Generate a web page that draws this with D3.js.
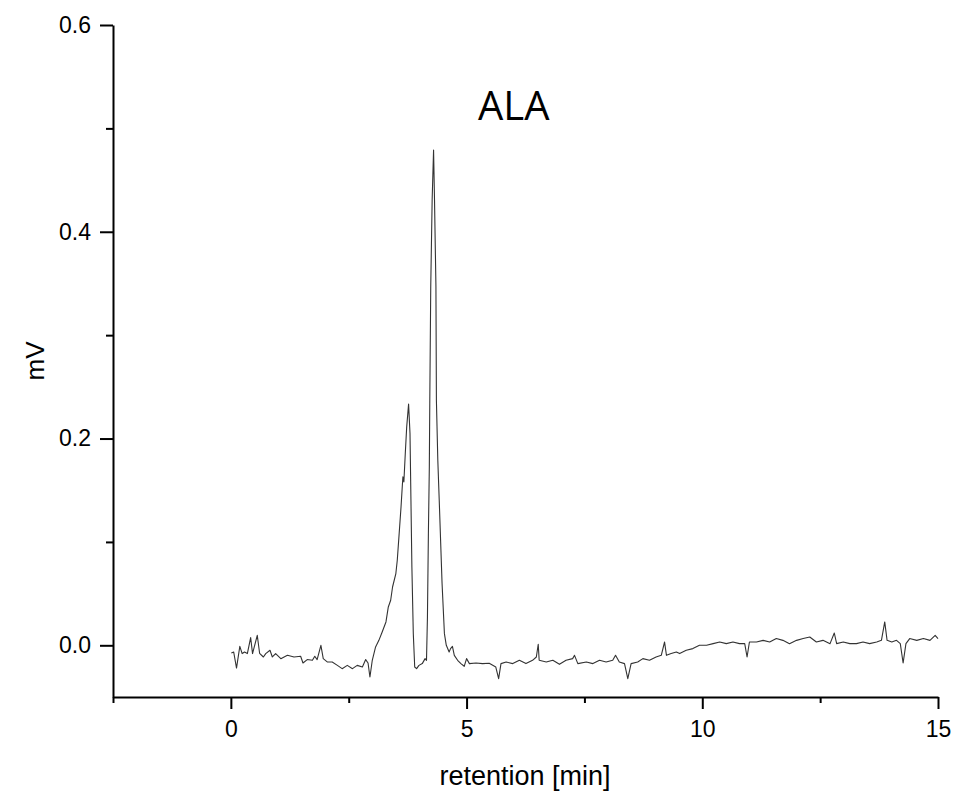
<!DOCTYPE html>
<html>
<head>
<meta charset="utf-8">
<script src="https://cdn.jsdelivr.net/npm/d3@7"></script>
<style>
  html, body { margin: 0; padding: 0; background: #fff; }
  svg { display: block; }
</style>
</head>
<body>
<svg id="chart" width="955" height="796"></svg>
<script>
// ---- data ----
const retentionMin = [
  0.01,0.06,0.12,0.19,0.24,0.29,0.35,0.42,0.46,0.56,0.61,0.69,0.74,0.83,0.88,0.95,1.06,1.20,1.34,1.48,
  1.53,1.62,1.73,1.78,1.83,1.91,1.96,2.05,2.15,2.26,2.36,2.47,2.58,2.68,2.79,2.86,2.91,2.95,3.00,3.07,
  3.14,3.21,3.29,3.34,3.39,3.43,3.50,3.53,3.57,3.61,3.64,3.65,3.67,3.70,3.73,3.77,3.80,3.82,3.84,3.87,
  3.90,3.94,3.99,4.06,4.12,4.15,4.17,4.19,4.21,4.22,4.24,4.27,4.30,4.32,4.35,4.36,4.39,4.42,4.48,4.53,
  4.57,4.63,4.66,4.70,4.74,4.81,4.88,4.95,5.00,5.06,5.20,5.34,5.48,5.62,5.68,5.73,5.84,5.98,6.12,6.26,
  6.40,6.48,6.52,6.54,6.69,6.83,6.97,7.11,7.25,7.29,7.36,7.54,7.68,7.82,7.96,8.10,8.16,8.24,8.35,8.42,
  8.49,8.63,8.74,8.88,9.02,9.13,9.20,9.24,9.34,9.45,9.52,9.66,9.80,9.94,10.09,10.23,10.37,10.51,10.65,10.79,
  10.90,10.95,11.00,11.15,11.29,11.43,11.57,11.71,11.85,12.00,12.14,12.28,12.42,12.56,12.71,12.80,12.85,12.99,13.13,13.27,
  13.41,13.55,13.70,13.80,13.87,13.92,14.02,14.12,14.20,14.26,14.32,14.40,14.55,14.69,14.83,14.94,15.00
];
const signalMV = [
  -0.0075,-0.0065,-0.022,-0.001,-0.008,-0.0065,-0.008,0.0075,-0.008,0.0097,-0.0077,-0.0113,-0.008,-0.0048,-0.0113,-0.008,-0.0129,-0.0097,-0.0113,-0.0106,
  -0.0171,-0.0138,-0.0145,-0.0106,-0.0138,0.0,-0.0129,-0.0162,-0.0162,-0.0194,-0.0226,-0.0194,-0.0226,-0.0194,-0.021,-0.0138,-0.0171,-0.0307,-0.0145,-0.0016,
  0.0048,0.0129,0.0226,0.0371,0.0436,0.0564,0.0694,0.0823,0.108,0.134,0.1565,0.163,0.158,0.1856,0.2113,0.2333,0.205,0.1404,0.0758,0.0113,
  -0.021,-0.0226,-0.0194,-0.0177,-0.0129,-0.0145,0.0274,0.108,0.1726,0.237,0.347,0.431,0.479,0.431,0.347,0.237,0.179,0.1404,0.060,0.0113,
  0.0,-0.0065,-0.0032,-0.001,-0.0097,-0.0145,-0.0177,-0.0203,-0.0129,-0.0177,-0.0171,-0.0177,-0.0174,-0.021,-0.0322,-0.0177,-0.0162,-0.0177,-0.0145,-0.0177,
  -0.0145,-0.0113,0.001,-0.0145,-0.0162,-0.0145,-0.0184,-0.0145,-0.0129,-0.0097,-0.0177,-0.0162,-0.0177,-0.0145,-0.0162,-0.0145,-0.0097,-0.0162,-0.0177,-0.0322,
  -0.0177,-0.0162,-0.0129,-0.0145,-0.0113,-0.0097,0.0032,-0.0097,-0.008,-0.0065,-0.008,-0.0048,-0.0032,0.0,0.0,0.0016,0.0032,0.0016,0.0032,0.0016,
  0.0016,-0.0113,0.0032,0.0032,0.0048,0.0032,0.0065,0.0048,0.0016,0.0048,0.0065,0.008,0.0032,0.0048,0.0016,0.0119,0.0016,0.0032,0.0016,0.0016,
  0.0032,0.0016,0.0032,0.0048,0.0226,0.0048,0.0032,0.0048,0.0016,-0.0171,0.0016,0.0065,0.0048,0.0065,0.0048,0.0097,0.0065
];
const xMajorTicks = [0, 5, 10, 15];
const xMinorTicks = [-2.5, 2.5, 7.5, 12.5];
const yMajorTicks = [0.0, 0.2, 0.4, 0.6];
const yMinorTicks = [0.1, 0.3, 0.5];
const xDomain = [-2.5, 15];
const yDomain = [-0.05, 0.6];
const chartTitle = "ALA";
const xLabel = "retention [min]";
const yLabel = "mV";

// ---- drawing ----
(function () {
  const svg = d3.select("#chart");
  const mLeft = 113, mRight = 938, mTop = 25, mBottom = 697;

  const x = d3.scaleLinear().domain(xDomain).range([mLeft, mRight]);
  const y = d3.scaleLinear().domain(yDomain).range([mBottom, mTop]);

  const tickFont = "'Liberation Sans', Arial, sans-serif";

  // trace
  const data = retentionMin.map((t, i) => [t, signalMV[i]]);
  svg.append("path")
    .datum(data)
    .attr("fill", "none")
    .attr("stroke", "#333")
    .attr("stroke-width", 1.1)
    .attr("stroke-linejoin", "round")
    .attr("d", d3.line().x(d => x(d[0])).y(d => y(d[1])));

  // x axis
  const gx = svg.append("g").attr("transform", `translate(0,${mBottom})`);
  gx.call(d3.axisBottom(x).tickValues(xMajorTicks).tickSize(12).tickSizeOuter(0).tickPadding(12)
    .tickFormat(d3.format("d")));
  const gxm = svg.append("g").attr("transform", `translate(0,${mBottom})`);
  gxm.call(d3.axisBottom(x).tickValues(xMinorTicks).tickSize(6).tickSizeOuter(0).tickFormat(""));
  gxm.select(".domain").remove();

  // y axis
  const gy = svg.append("g").attr("transform", `translate(${mLeft},0)`);
  gy.call(d3.axisLeft(y).tickValues(yMajorTicks).tickSize(13).tickSizeOuter(0).tickPadding(9)
    .tickFormat(d3.format(".1f")));
  const gym = svg.append("g").attr("transform", `translate(${mLeft},0)`);
  gym.call(d3.axisLeft(y).tickValues(yMinorTicks).tickSize(7).tickSizeOuter(0).tickFormat(""));
  gym.select(".domain").remove();

  svg.selectAll(".domain, .tick line")
    .attr("stroke", "#000").attr("stroke-width", 2);
  svg.selectAll(".tick text")
    .attr("fill", "#000")
    .style("font-family", tickFont)
    .style("font-size", "23px");

  // axis titles
  svg.append("text")
    .attr("x", 525)
    .attr("y", 785)
    .attr("text-anchor", "middle")
    .style("font-family", tickFont)
    .style("font-size", "27px")
    .attr("fill", "#000")
    .text(xLabel);

  svg.append("text")
    .attr("transform", `translate(44,${(mTop + mBottom) / 2}) rotate(-90)`)
    .attr("text-anchor", "middle")
    .style("font-family", tickFont)
    .style("font-size", "26px")
    .attr("fill", "#000")
    .text(yLabel);

  // annotation
  svg.append("text")
    .attr("x", x(6.0))
    .attr("y", 120)
    .attr("text-anchor", "middle")
    .style("font-family", "'Open Sans', 'Noto Sans', sans-serif")
    .style("font-size", "40px")
    .attr("fill", "#000")
    .text(chartTitle);
})();
</script>
</body>
</html>
